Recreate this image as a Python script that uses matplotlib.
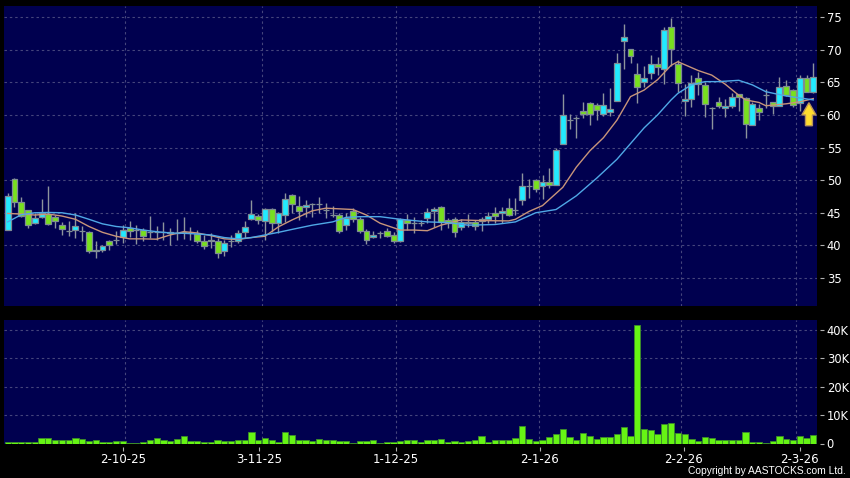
import matplotlib
import matplotlib.pyplot as plt
import numpy as np
matplotlib.use('agg')

# daily candles
opens = [42.36, 50.12, 46.7, 45.4, 43.4, 44.3, 44.8, 44.4, 43.2, 42.2,
         42.3, 42.2, 42.1, 39.15, 39.35, 40.6, 40.8, 41.3, 42.7, 42.3,
         42.3, 42, 42, 42, 41.85, 41.95, 42, 42, 41.75, 40.6,
         40.7, 40.7, 39.1, 40.7, 40.6, 42, 44, 44.55, 43.8, 45.6,
         43.5, 44.65, 47.67, 46.1, 45.83, 46.3, 46.3, 45.5, 44.65, 44.65,
         43.05, 45.2, 44, 42.25, 41.3, 41.85, 42.15, 41.65, 40.6, 43.9,
         43.5, 43.5, 44.25, 45.2, 45.9, 43.9, 44.05, 42.75, 43.6, 43.6,
         44.1, 44.1, 44.9, 44.9, 45.8, 45.5, 47, 49.05, 50, 49.1,
         49.76, 49.2, 55.48, 59.2, 59.57, 60.54, 61.87, 61.56, 60.08, 60.4,
         62.07, 71.37, 70.04, 66.3, 64.98, 66.36, 67.85, 66.98, 73.5, 67.8,
         62.07, 62.38, 65.6, 64.53, 61.05, 61.92, 61, 61.3, 63.15, 62.63,
         58.4, 61.1, 63, 62, 61.36, 64.47, 63.8, 61.77, 65.6, 63.45]
closes = [47.62, 46.6, 44.55, 43.2, 44.15, 44.9, 43.3, 43.8, 42.5, 42.2,
          42.9, 42.2, 39.1, 39.35, 39.95, 40.1, 40.8, 42.4, 42.15, 42.3,
          41.5, 42, 42, 42, 42.1, 41.95, 42, 42, 40.6, 39.9,
          40.8, 38.8, 40.3, 40.7, 41.95, 42.75, 44.75, 43.85, 45.6, 43.5,
          44.9, 47.05, 46.4, 45.3, 46.2, 46.3, 46.3, 45.5, 44.65, 42.25,
          44.25, 44, 42.25, 40.9, 41.65, 41.85, 41.5, 40.7, 44, 43.5,
          43.5, 43.5, 45.15, 45.6, 43.6, 43.5, 42, 43.6, 43.4, 43,
          43.8, 44.55, 44.55, 45.2, 44.7, 45.5, 49.05, 49.05, 48.6, 49.76,
          49.2, 54.56, 60.03, 59.2, 59.57, 60.08, 60.13, 60.7, 61.56, 60.95,
          67.9, 71.98, 68.97, 64.2, 65.6, 67.85, 67.28, 73.06, 70.04, 64.83,
          62.38, 64.93, 64.73, 61.72, 61.05, 61.41, 61.3, 62.7, 62.7, 58.65,
          61.72, 60.4, 63, 61.36, 64.32, 63, 61.46, 65.6, 63.45, 65.75]
highs = [48.08, 50.33, 47.37, 45.5, 44.9, 47.06, 49.1, 44.66, 43.6, 43.8,
         45, 43, 42.2, 40.7, 40.1, 40.9, 42.2, 43.1, 43.8, 43.1,
         42.6, 44.5, 43, 43.6, 42.6, 44, 44.3, 42.8, 42.3, 41.6,
         41.85, 41.2, 40.8, 41.6, 42.4, 43.8, 46.95, 44.8, 45.7, 45.67,
         45.15, 48.1, 47.9, 47.55, 47, 46.45, 47.35, 46.45, 46, 45,
         45, 45.7, 44.4, 42.45, 42.2, 42.2, 42.6, 42.1, 44.15, 44.8,
         44.4, 43.9, 45.7, 45.85, 46, 44.15, 44.3, 44, 44.8, 43.9,
         44.4, 45.15, 45.9, 45.85, 47.2, 47.2, 51.03, 50.17, 50.2, 50.8,
         51.8, 54.87, 63.15, 60.13, 59.8, 61.92, 62, 61.77, 63.3, 64.06,
         69.43, 73.92, 70.04, 67.9, 67.5, 69.17, 68.8, 73.4, 74.8, 68.4,
         64.73, 66.1, 66.6, 65.1, 61.15, 62.7, 62.38, 63.4, 63.15, 62.8,
         62, 61.66, 63.96, 62, 65.75, 65.34, 63.9, 66.06, 66.06, 68]
lows = [42.36, 45.9, 44.4, 42.6, 43.3, 44.15, 43.1, 42.7, 41.6, 41.4,
        41.2, 40.6, 38.8, 38.1, 39, 39.3, 40.2, 40.4, 41.3, 40.2,
        40.7, 41.2, 40.8, 40.9, 40, 40.8, 41, 40.9, 40.3, 39.4,
        39.55, 38, 38.4, 39.8, 40.3, 41.1, 43.9, 43.3, 40.9, 42.1,
        41.85, 43.6, 44.9, 43.9, 44.4, 44.4, 44.9, 44.15, 44.4, 41.85,
        42.35, 43.6, 41.95, 40.2, 41.1, 41.1, 41.3, 40.4, 40.5, 42.35,
        41.85, 43, 43.4, 42.85, 42.35, 42.6, 41.3, 42.35, 42.75, 42.35,
        42.25, 43.4, 43.4, 43.5, 44.5, 44.65, 46.2, 47.3, 48.2, 47.1,
        48.74, 49.2, 55.48, 57.83, 56.5, 59.47, 58.45, 59.2, 59.9, 59.83,
        62.07, 67.03, 67.9, 61.77, 64.2, 65.5, 66.1, 64.7, 67.54, 63.55,
        59.83, 61.25, 63.04, 59.62, 57.88, 61, 59.72, 61.1, 60.64, 56.5,
        58.4, 59.2, 61, 60.13, 61.36, 62.9, 61.26, 60.64, 63.45, 63.3]

# volume in thousands
volumes = [0.4, 0.4, 0.4, 0.5, 0.7, 1.8, 1.9, 1.2, 1.4, 1.4,
           1.8, 1.5, 0.9, 1.1, 0.4, 0.5, 1, 1, 0.3, 0.3,
           0.5, 1.1, 1.8, 1.4, 0.8, 1.5, 2.6, 0.9, 0.9, 0.4,
           0.5, 1.4, 1, 0.8, 1.4, 1.1, 3.9, 1.1, 2.1, 1.3,
           0.7, 4.2, 2.9, 1.4, 1.2, 0.9, 1.5, 1.2, 1.1, 0.8,
           0.8, 0.35, 0.9, 0.8, 1.1, 0.35, 0.6, 0.5, 0.9, 1.2,
           1.2, 0.5, 1.1, 1.4, 1.65, 0.5, 0.8, 0.5, 0.8, 1.1,
           2.6, 0.6, 1.1, 1.1, 1.2, 1.8, 6, 1.65, 0.9, 1.2,
           2.4, 3.4, 5.2, 2.4, 1.4, 3.65, 2.8, 1.65, 2.35, 2.2,
           3.2, 5.8, 2.7, 41.8, 5.2, 4.7, 3.3, 6.9, 7.1, 3.6,
           3.5, 1.5, 0.9, 2.35, 2, 1.2, 1.2, 1.2, 1.2, 4.1,
           0.45, 0.45, 0.35, 0.9, 2.6, 1.65, 1.3, 2.8, 2, 3]

# moving averages, read at a subset of the candles
fast_x = [0, 2, 4, 6, 8, 10, 12, 14, 16, 18, 20, 22, 24, 26, 28, 30, 32, 34,
          36, 38, 40, 42, 45, 47, 51, 53, 55, 58, 60, 62, 64, 67, 70, 74, 75,
          77, 79, 82, 84, 86, 88, 90, 92, 94, 96, 98, 99, 102, 104, 106, 108,
          109, 111, 112, 115, 117, 119]
fast_ma = [44.9, 44.8, 44.65, 44.8, 44.5, 44.0, 42.9, 42.0, 41.4, 41.0, 41.0,
           40.95, 41.6, 42.1, 41.9, 41.5, 41.0, 40.9, 41.2, 41.4, 42.85, 43.9,
           45.3, 45.7, 45.5, 44.65, 43.4, 42.35, 42.35, 42.25, 43.1, 43.9,
           43.8, 43.75, 44, 45.2, 46.1, 48.9, 52, 54.5, 56.5, 59.2, 62.8, 63.8,
           65.4, 67.6, 68.15, 66.8, 66.1, 64.7, 63, 62.3, 61.9, 61.4, 61.7, 62,
           62.5]
slow_x = [0, 2, 4, 6, 8, 10, 12, 14, 16, 18, 20, 22, 24, 26, 28, 30, 32, 34,
          36, 38, 40, 42, 45, 48, 50, 52, 55, 58, 62, 65, 68, 72, 75, 78, 81,
          84, 87, 90, 92, 94, 96, 98, 99, 101, 103, 105, 108, 110, 112, 115,
          119]
slow_ma = [43.6, 44.7, 45, 45.05, 45, 44.66, 44, 43.3, 42.9, 42.7, 42.35, 42.1,
           41.9, 41.85, 41.75, 41.6, 41.2, 41, 41.2, 41.6, 42, 42.45, 43.1,
           43.6, 44.3, 44.4, 44.4, 44, 43.6, 43.5, 43.1, 43.2, 43.6, 45, 45.5,
           47.6, 50.3, 53.2, 55.6, 58, 60, 62.3, 63.3, 64.6, 65.1, 65.1, 65.3,
           64.6, 63.55, 62.9, 62.3]

grid_x = [17.35, 37.5, 57.4, 78.55, 99.45, 116.5]
date_x = [17, 37.1, 57.3, 78.6, 99.9, 117]
date_labels = ["2-10-25", "3-11-25", "1-12-25", "2-1-26", "2-2-26", "2-3-26"]
price_ticks = [35, 40, 45, 50, 55, 60, 65, 70, 75]
vol_ticks = [0, 10, 20, 30, 40]
vol_labels = ["0", "10K", "20K", "30K", "40K"]

BG = "#000000"
PANEL = "#00004f"
GRID = "#45457c"
DASH = (0, (2.2, 2.6))
EDGE = "#7f8c94"
UP = "#22eaff"
DOWN = "#78e01e"

W, H = 850.0, 478.0


def panel(fig, top, bottom):
    """ dark blue panel placed by pixel rows """
    ax = fig.add_axes([4 / W, 1 - bottom / H, 813 / W, (bottom - top) / H])
    ax.set_facecolor(PANEL)
    for s in ax.spines.values():
        s.set_visible(False)
    ax.spines['bottom'].set_position(('outward', 2.5))
    ax.spines['right'].set_position(('outward', 2.5))
    ax.yaxis.tick_right()
    ax.set_xlim(-0.55, 119.55)
    ax.set_axisbelow(True)
    ax.tick_params(colors="#b0b0b0", labelcolor="white", length=3, width=0.8,
                   labelsize=8.3, pad=1.5)
    for gx in grid_x:
        ax.axvline(gx, color=GRID, lw=0.8, ls=DASH, zorder=0)
    return ax


fig = plt.figure(figsize=(W / 100, H / 100), dpi=100, facecolor=BG)

ax1 = panel(fig, 6, 306)
ax1.set_ylim(30.71, 76.69)
ax1.set_yticks(price_ticks)
ax1.set_xticks([])
ax1.grid(axis='y', color=GRID, lw=0.8, ls=DASH)

x = np.arange(len(opens))
o = np.asarray(opens)
c = np.asarray(closes)
cols = [UP if b >= a else DOWN for a, b in zip(opens, closes)]
ax1.vlines(x, lows, highs, color="#8d949c", lw=1, zorder=2)
ax1.bar(x, c - o, bottom=o, width=0.88, color=cols, edgecolor=EDGE, lw=0.9,
        zorder=3)
ax1.plot(fast_x, fast_ma, color="#c8957a", lw=1, zorder=4)
ax1.plot(slow_x, slow_ma, color="#4fa8e6", lw=1, zorder=4)
ax1.arrow(118.36, 58.34, 0, 3.53, width=1.03, head_width=2.1, head_length=1.88,
          length_includes_head=True, fc="#ffdc2e", ec="#b8935a", lw=1, zorder=5)

ax2 = panel(fig, 320, 443.5)
ax2.set_ylim(0, 43.5)
ax2.set_yticks(vol_ticks)
ax2.set_yticklabels(vol_labels)
ax2.set_xticks(date_x)
ax2.set_xticklabels(date_labels)
ax2.tick_params(axis='x', labelsize=8.5, pad=1.5)
ax2.grid(axis='y', color=GRID, lw=0.8, ls=DASH)
ax2.bar(x, volumes, width=0.92, color="#66f414", edgecolor="#3c8c2a", lw=0.6,
        zorder=3)

fig.text(846 / W, 1 - 471.5 / H, "Copyright by AASTOCKS.com Ltd.", color="white",
         fontsize=7.4, family="Liberation Sans", ha='right', va='center')

fig.savefig("out.png", dpi=100, facecolor=BG)
